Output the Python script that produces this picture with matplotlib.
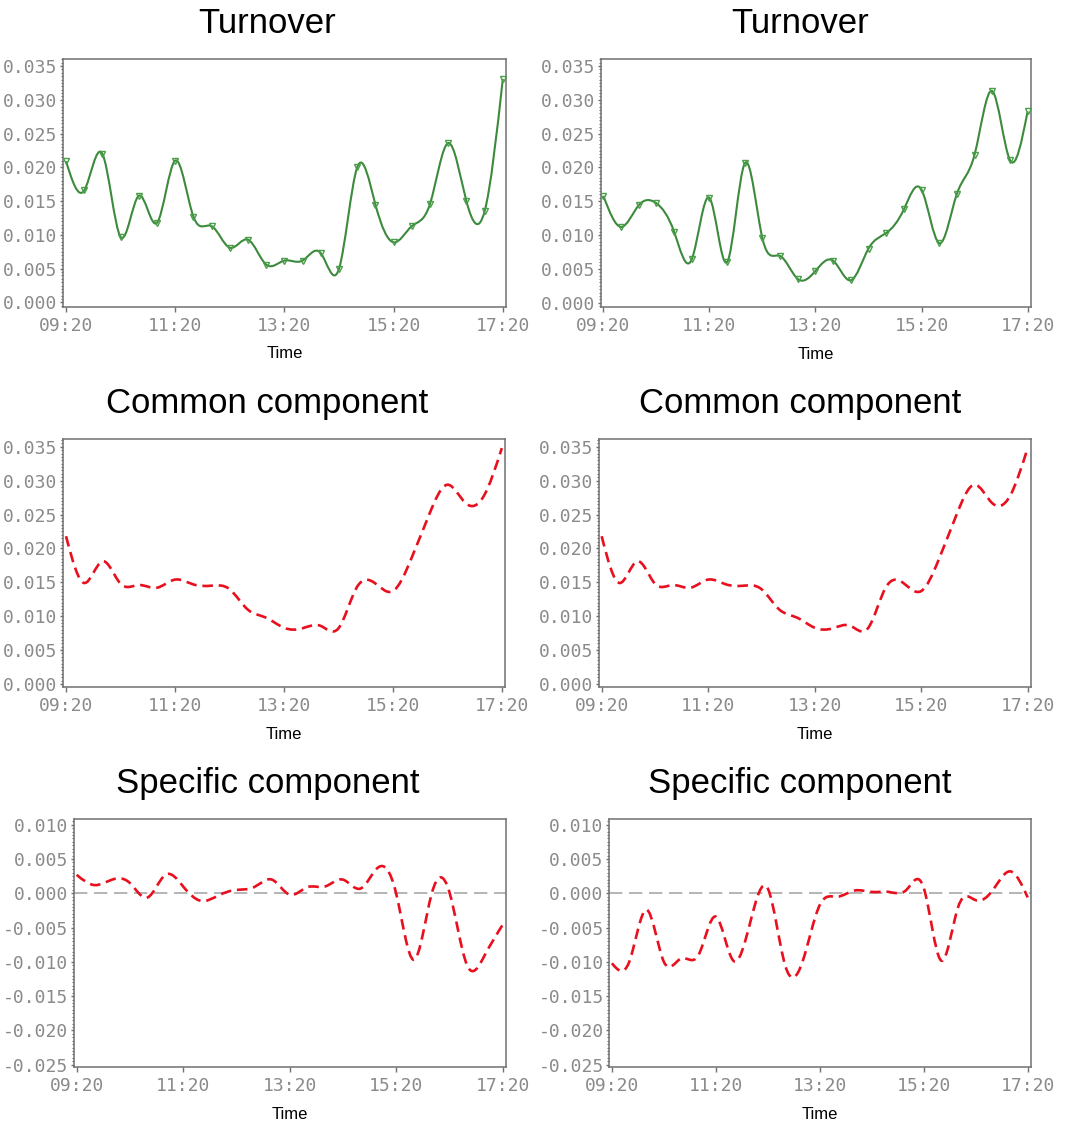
import numpy as np
import matplotlib
matplotlib.use("Agg")
import matplotlib.pyplot as plt
from matplotlib.path import Path
from matplotlib.patches import PathPatch
from matplotlib.transforms import offset_copy
from matplotlib.ticker import MultipleLocator, FixedLocator, FixedFormatter, FormatStrFormatter

plt.rcParams['axes.unicode_minus'] = False

# ---------------- data ----------------
minutes = [0, 20, 40, 60, 80, 100, 120, 140, 160, 180, 200, 220, 240, 260, 280,
           300, 320, 340, 360, 380, 400, 420, 440, 460, 480]   # minutes after 09:20
tick_minutes = [0, 120, 240, 360, 480]
tick_labels = ["09:20", "11:20", "13:20", "15:20", "17:20"]

turnover_a = [0.0209, 0.0166, 0.0220, 0.0097, 0.0158, 0.0118, 0.0210, 0.0127, 0.0113,
              0.0081, 0.0093, 0.0056, 0.0062, 0.0062, 0.0073, 0.0050, 0.0200, 0.0145,
              0.0089, 0.0113, 0.0146, 0.0236, 0.0150, 0.0135, 0.0331]
turnover_b = [0.0158, 0.0112, 0.0144, 0.0147, 0.0105, 0.0064, 0.0155, 0.0060, 0.0206,
              0.0095, 0.0069, 0.0035, 0.0047, 0.0062, 0.0033, 0.0080, 0.0103, 0.0138,
              0.0167, 0.0088, 0.0161, 0.0219, 0.0313, 0.0211, 0.0283]
common = [0.0218, 0.0149, 0.0181, 0.0148, 0.0146, 0.0142, 0.0154, 0.0147, 0.0145,
          0.0140, 0.0110, 0.0098, 0.0083, 0.0082, 0.0086, 0.0082, 0.0142, 0.0149,
          0.0137, 0.0184, 0.0250, 0.0294, 0.0267, 0.0277, 0.0348]
specific_a = [0.0027, 0.0012, 0.0020, 0.0015, -0.0006, 0.0027, 0.0010, -0.0011, -0.0003,
              0.0005, 0.0009, 0.0020, -0.0002, 0.0009, 0.0010, 0.0020, 0.0007, 0.0038,
              0.0000, -0.0097, -0.0001, 0.0002, -0.0105, -0.0090, -0.0046]
specific_b = [-0.0102, -0.0100, -0.0024, -0.0100, -0.0095, -0.0090, -0.0034, -0.0098, -0.0041,
              0.0007, -0.0105, -0.0100, -0.0017, -0.0005, 0.0004, 0.0002, 0.0002, 0.0005,
              0.0008, -0.0098, -0.0019, -0.0010, 0.0005, 0.0032, -0.0006]

titles = ["Turnover", "Common component", "Specific component"]

# ---------------- helpers ----------------
def spline_path(x, y):
    """Natural cubic spline through the points, as a Bezier path."""
    x = np.asarray(x, float); y = np.asarray(y, float)
    n = len(x)
    h = np.diff(x)
    A = np.zeros((n, n)); b = np.zeros(n)
    A[0, 0] = 1; A[-1, -1] = 1
    for i in range(1, n - 1):
        A[i, i - 1] = h[i - 1]; A[i, i] = 2 * (h[i - 1] + h[i]); A[i, i + 1] = h[i]
        b[i] = 6 * ((y[i + 1] - y[i]) / h[i] - (y[i] - y[i - 1]) / h[i - 1])
    M = np.linalg.solve(A, b)
    m = np.zeros(n)
    for i in range(n - 1):
        m[i] = (y[i + 1] - y[i]) / h[i] - h[i] * (2 * M[i] + M[i + 1]) / 6
    m[-1] = (y[-1] - y[-2]) / h[-1] + h[-1] * (M[-2] + 2 * M[-1]) / 6
    verts = [(x[0], y[0])]; codes = [Path.MOVETO]
    for i in range(n - 1):
        d = h[i] / 3
        verts += [(x[i] + d, y[i] + m[i] * d), (x[i + 1] - d, y[i + 1] - m[i + 1] * d),
                  (x[i + 1], y[i + 1])]
        codes += [Path.CURVE4] * 3
    return Path(verts, codes)

GRAY = "#8a8a8a"
SPINE = "#707070"
MONO = "DejaVu Sans Mono"

fig = plt.figure(figsize=(10.65, 11.25), dpi=100)
W, H = 1065.0, 1125.0

def make_ax(l, r, t, b):
    return fig.add_axes([l / W, 1 - b / H, (r - l) / W, (b - t) / H])

boxes = [
    [(63.3, 506, 59.3, 306.5), (600.7, 1030.7, 59.3, 306.7)],
    [(63.3, 505, 439.3, 686.7), (599, 1030.7, 439.3, 686.7)],
    [(74, 505.7, 819.3, 1066.7), (609.3, 1030.7, 819.3, 1066.7)],
]
series = [[turnover_a, turnover_b], [common, common], [specific_a, specific_b]]
baselines = [33, 413, 793]

for row in range(3):
    for col in range(2):
        ax = make_ax(*boxes[row][col])
        y = series[row][col]
        if row == 0:
            p = PathPatch(spline_path(minutes, y), facecolor="none", edgecolor="#3c8a3c",
                          lw=1.5, zorder=3)
            ax.add_patch(p)
            ax.plot(minutes, y, linestyle="none", marker="v", ms=4.5, mfc="none",
                    mec="#4a9e4a", mew=1.0, zorder=4)
            ax.set_ylim(-0.0006, 0.036)
            ax.yaxis.set_major_locator(MultipleLocator(0.005))
        elif row == 1:
            p = PathPatch(spline_path(minutes, y), facecolor="none", edgecolor="#e8101e",
                          lw=1.9, linestyle=(0, (4, 2.2)), zorder=3)
            ax.add_patch(p)
            ax.set_ylim(-0.0004, 0.0361)
            ax.yaxis.set_major_locator(MultipleLocator(0.005))
        else:
            ax.axhline(0, color="#a8a8a8", lw=1.2, linestyle=(0, (8, 4)), zorder=2)
            p = PathPatch(spline_path(minutes, y), facecolor="none", edgecolor="#e8101e",
                          lw=1.9, linestyle=(0, (4, 2.2)), zorder=3)
            ax.add_patch(p)
            ax.set_ylim(-0.0253, 0.0108)
            ax.yaxis.set_major_locator(FixedLocator([0.010, 0.005, 0.0, -0.005, -0.010,
                                                     -0.015, -0.020, -0.025]))
        ax.set_xlim(-3, 483.5)
        ax.yaxis.set_minor_locator(MultipleLocator(0.0005))
        ax.yaxis.set_major_formatter(FormatStrFormatter("%.3f"))
        ax.xaxis.set_major_locator(FixedLocator(tick_minutes))
        ax.xaxis.set_major_formatter(FixedFormatter(tick_labels))
        for s in ax.spines.values():
            s.set_color(SPINE); s.set_linewidth(1.1)
        ax.tick_params(axis="y", which="major", length=2.5, width=1.0, color=SPINE,
                       pad=1.5, labelcolor=GRAY, labelsize=13)
        ax.tick_params(axis="y", which="minor", length=1.5, width=0.8, color=SPINE)
        ax.tick_params(axis="x", which="major", length=3.5, width=1.0, color=SPINE,
                       pad=4, labelcolor=GRAY, labelsize=13)
        for lab in ax.get_xticklabels() + ax.get_yticklabels():
            lab.set_family(MONO)
        tr = offset_copy(ax.transAxes, fig=fig, x=0, y=-47.5, units="dots")
        ax.text(0.5, 0, "Time", transform=tr, ha="center", va="center",
                fontsize=12, family="Liberation Sans", color="black")
        fig.text(0.25 + 0.5 * col + 0.001, 1 - baselines[row] / H, titles[row],
                 ha="center", va="baseline", fontsize=25, family="Liberation Sans",
                 color="black")

fig.savefig("out.png", dpi=100, facecolor="white")
